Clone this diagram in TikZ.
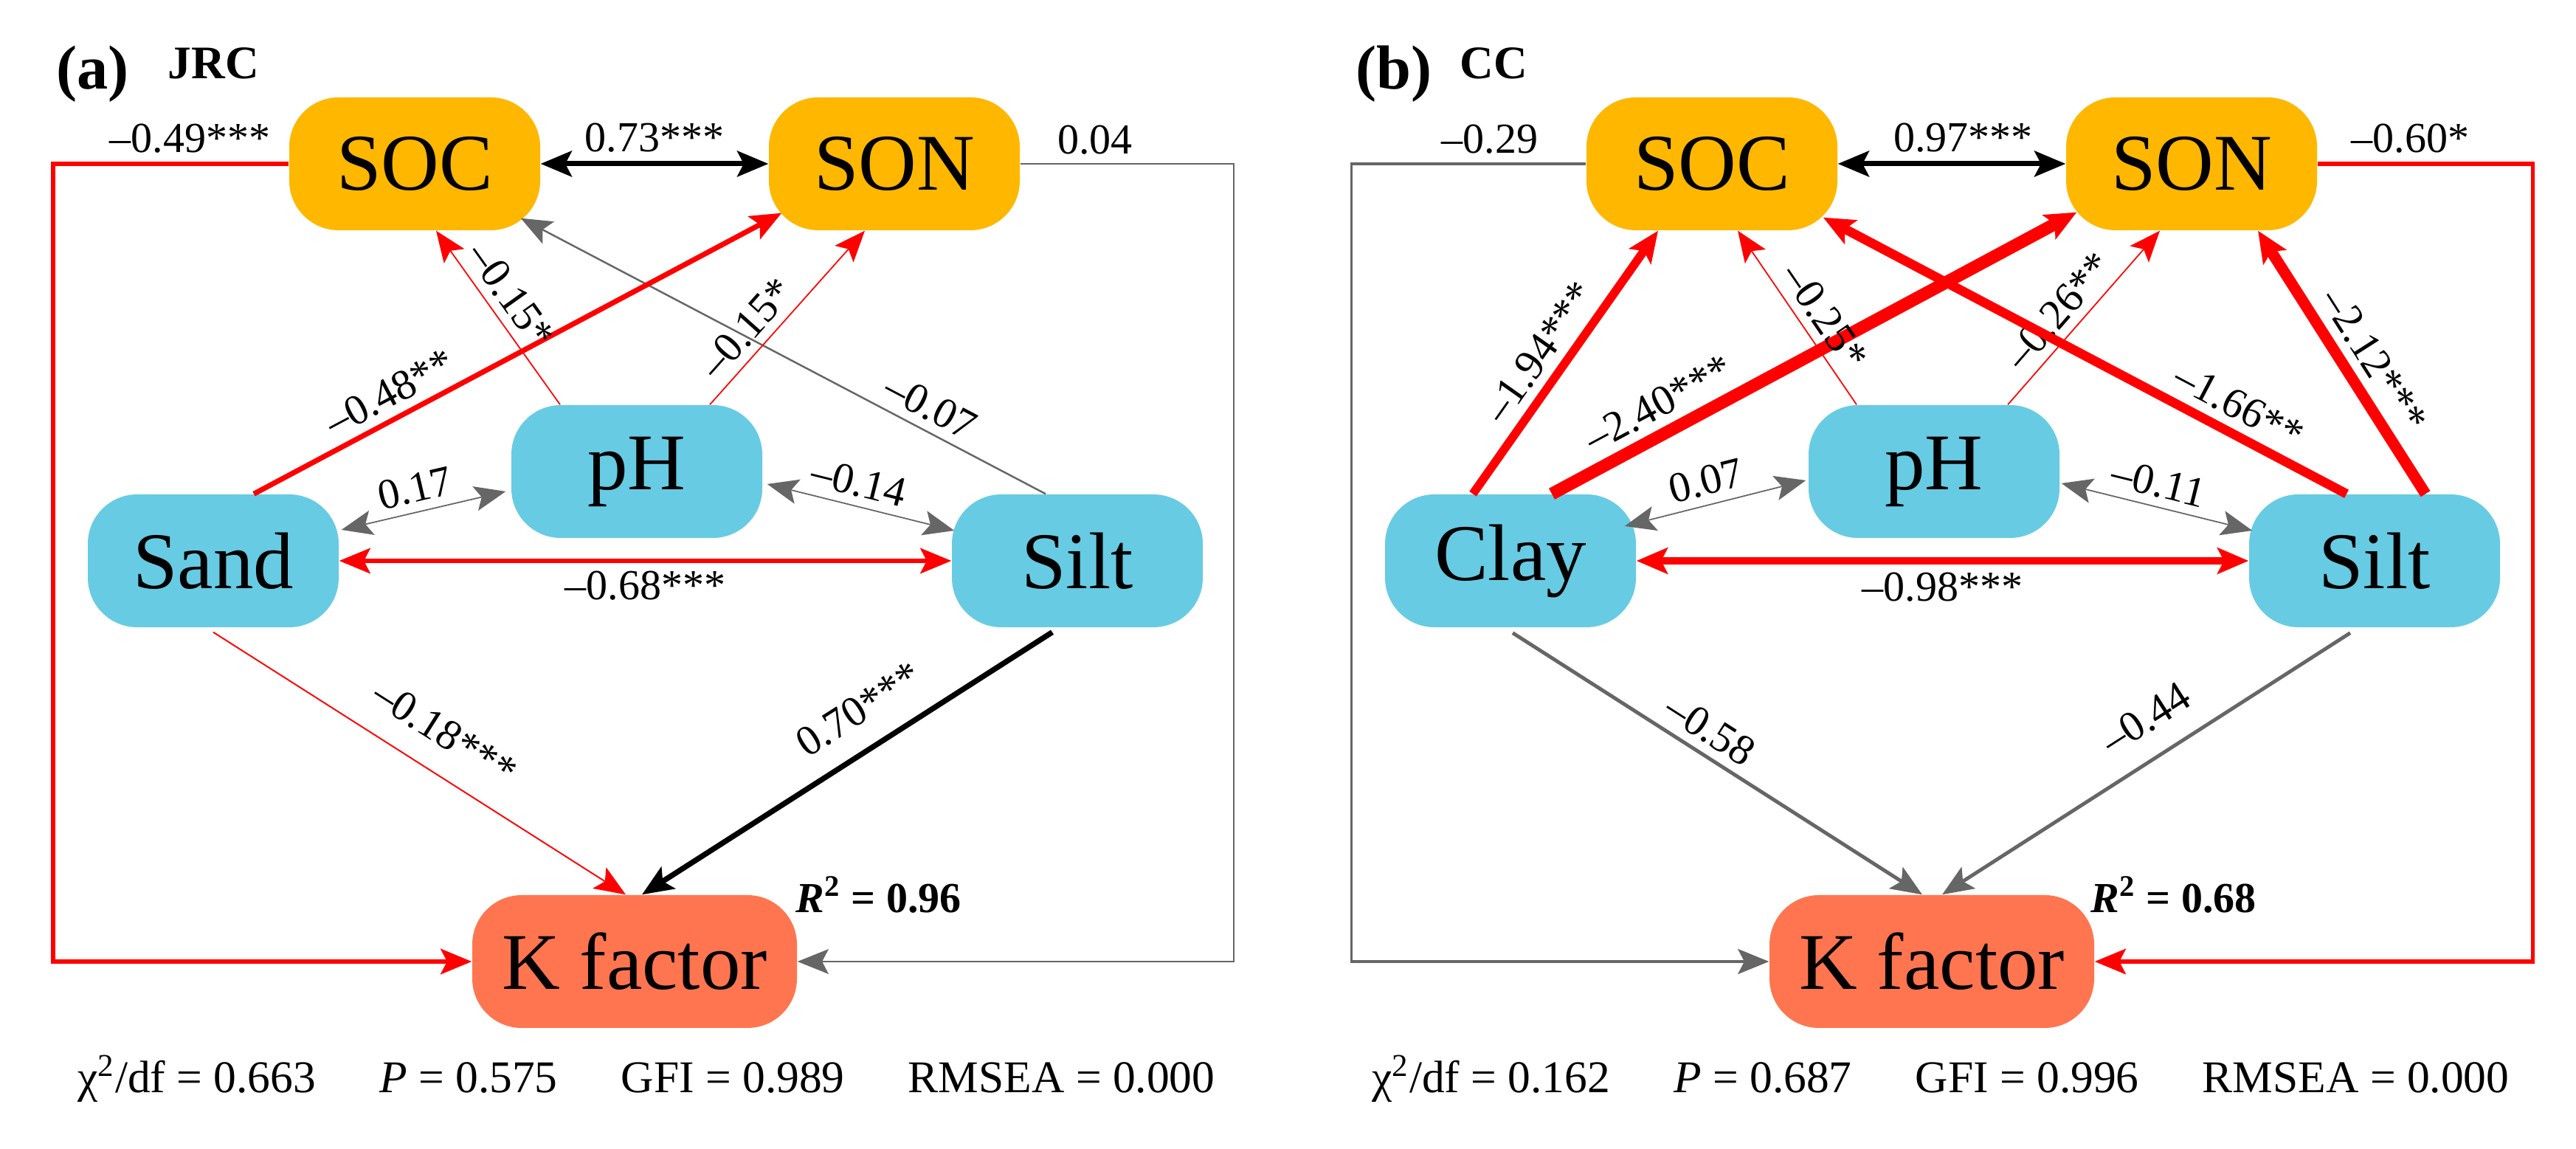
\documentclass[tikz,border=0pt]{standalone}
\usepackage{fontspec}
\setmainfont{Liberation Serif}
\usetikzlibrary{arrows.meta}

\definecolor{socorange}{RGB}{255,183,0}
\definecolor{soilblue}{RGB}{103,203,227}
\definecolor{kcoral}{RGB}{255,117,80}
\definecolor{pathred}{RGB}{255,0,0}
\definecolor{pathgray}{RGB}{102,102,102}

\newcommand{\boxfont}{\fontsize{31}{36}\selectfont}
\newcommand{\labfont}{\fontsize{16.5}{19}\selectfont}
\newcommand{\fitfont}{\fontsize{17.5}{21}\selectfont}
\newcommand{\tagfont}{\fontsize{24}{28}\selectfont\bfseries}
\newcommand{\sitefont}{\fontsize{18}{21}\selectfont\bfseries}

\begin{document}
\begin{tikzpicture}[
    >={Stealth[length=12pt, width=9.5pt 0.2, inset=2.5pt]},
    soil/.style={rounded corners=0.67cm, minimum width=3.4cm, minimum height=1.8cm, inner sep=0pt, font=\boxfont},
    carbon/.style={soil, fill=socorange},
    texture/.style={soil, fill=soilblue},
    kfac/.style={soil, fill=kcoral, minimum width=4.4cm},
    coef/.style={font=\labfont, sloped, above},
    rsq/.style={font=\labfont, anchor=west, inner sep=0pt},
    rline/.style={draw=pathred},
    gline/.style={draw=pathgray},
    kline/.style={draw=black}]
    \useasboundingbox (0,0) rectangle (34.91,15.57);

    \node[anchor=base west, inner sep=0pt, font=\tagfont] (tag_a) at (0.76,14.36) {(a)};
    \node[anchor=base west, inner sep=0pt, font=\sitefont] (site_a) at (2.27,14.50) {JRC};
    \node[carbon] (soc_a) at (5.62,13.35) {SOC};
    \node[carbon] (son_a) at (12.12,13.35) {SON};
    \node[texture] (ph_a) at (8.63,9.18) {pH};
    \node[texture] (sand_a) at (2.89,7.97) {Sand};
    \node[texture] (silt_a) at (14.60,7.97) {Silt};
    \node[kfac] (k_a) at (8.60,2.54) {K factor};
    \node[rsq] (r2_a) at ([xshift=-0.03cm]k_a.north east) {\textbf{\textit{R}\textsuperscript{2} = 0.96}};
    \node[font=\fitfont] (fit_a) at (8.76,0.95) {χ\textsuperscript{2}/df = 0.663\hspace{1.4em}\textit{P} = 0.575\hspace{1.4em}GFI = 0.989\hspace{1.4em}RMSEA = 0.000};

    \draw[rline, line width=1.6pt, ->] (soc_a.west) -- node[coef, pos=0.42] {--0.49***} ++(-3.19,0) |- (k_a.west);
    \draw[gline, line width=0.5pt, ->] (son_a.east) -- node[coef, pos=0.35] {0.04} ++(2.89,0) |- (k_a.east);

    \path[->]
        (soc_a.east) edge[kline, <->, line width=2pt] node[coef] {0.73***} (son_a.west)
        ([xshift=-0.43cm]silt_a.north) edge[gline, line width=0.7pt] node[coef, pos=0.24] {--0.07} ([xshift=-0.27cm,yshift=0.17cm]soc_a.south east)
        ([xshift=0.55cm]sand_a.north) edge[rline, line width=2pt] node[coef, pos=0.28] {--0.48**} ([xshift=0.18cm,yshift=0.24cm]son_a.south west)
        ([xshift=-1.04cm]ph_a.north) edge[rline, line width=0.5pt] node[coef, pos=0.55] {--0.15*} ([xshift=0.29cm]soc_a.south)
        ([xshift=0.99cm]ph_a.north) edge[rline, line width=0.5pt] node[coef, pos=0.35] {--0.15*} ([xshift=-0.40cm]son_a.south)
        ([xshift=0.03cm,yshift=0.42cm]sand_a.east) edge[gline, <->, line width=0.5pt] node[coef, pos=0.48] {0.17} ([xshift=-0.07cm,yshift=-0.27cm]ph_a.west)
        ([xshift=0.06cm,yshift=-0.17cm]ph_a.east) edge[gline, <->, line width=0.5pt] node[coef, pos=0.46] {--0.14} ([xshift=0.04cm,yshift=0.41cm]silt_a.west)
        (sand_a.east) edge[rline, <->, line width=1.5pt] node[coef, below] {--0.68***} (silt_a.west)
        ([yshift=-0.06cm]sand_a.south) edge[rline, line width=0.55pt] node[coef, pos=0.51, inner sep=0.33cm] {--0.18***} ([xshift=-0.12cm]k_a.north)
        ([xshift=-0.34cm,yshift=-0.06cm]silt_a.south) edge[kline, line width=2.1pt] node[coef, pos=0.42, inner sep=0.3cm] {0.70***} ([xshift=0.10cm]k_a.north);

    \node[anchor=base west, inner sep=0pt, font=\tagfont] (tag_b) at (18.37,14.36) {(b)};
    \node[anchor=base west, inner sep=0pt, font=\sitefont] (site_b) at (19.78,14.50) {CC};
    \node[carbon] (soc_b) at (23.20,13.35) {SOC};
    \node[carbon] (son_b) at (29.70,13.35) {SON};
    \node[texture] (ph_b) at (26.21,9.18) {pH};
    \node[texture] (clay_b) at (20.47,7.97) {Clay};
    \node[texture] (silt_b) at (32.18,7.97) {Silt};
    \node[kfac] (k_b) at (26.18,2.54) {K factor};
    \node[rsq] (r2_b) at ([xshift=-0.06cm]k_b.north east) {\textbf{\textit{R}\textsuperscript{2} = 0.68}};
    \node[font=\fitfont] (fit_b) at (26.30,0.95) {χ\textsuperscript{2}/df = 0.162\hspace{1.4em}\textit{P} = 0.687\hspace{1.4em}GFI = 0.996\hspace{1.4em}RMSEA = 0.000};

    \draw[gline, line width=1pt, ->] (soc_b.west) -- node[coef, pos=0.41] {--0.29} ++(-3.18,0) |- (k_b.west);
    \draw[rline, line width=1.5pt, ->] (son_b.east) -- node[coef, pos=0.43] {--0.60*} ++(2.92,0) |- (k_b.east);

    \path[->]
        (soc_b.east) edge[kline, <->, line width=2pt] node[coef, pos=0.55] {0.97***} (son_b.west)
        ([xshift=-0.51cm]clay_b.north) edge[rline, line width=3.3pt] node[coef, pos=0.48] {--1.94***} ([xshift=-0.73cm]soc_b.south)
        ([xshift=0.56cm]clay_b.north) edge[rline, line width=4.8pt] node[coef, pos=0.23] {--2.40***} ([xshift=0.15cm,yshift=0.25cm]son_b.south west)
        ([xshift=-1.05cm]ph_b.north) edge[rline, line width=0.5pt] node[coef, pos=0.43] {--0.25*} ([xshift=0.35cm]soc_b.south)
        ([xshift=1.00cm]ph_b.north) edge[rline, line width=0.5pt] node[coef, pos=0.45] {--0.26**} ([xshift=-0.43cm]son_b.south)
        ([xshift=-0.38cm]silt_b.north) edge[rline, line width=3.6pt] node[coef, pos=0.23] {--1.66**} ([xshift=-0.20cm,yshift=0.18cm]soc_b.south east)
        ([xshift=0.69cm]silt_b.north) edge[rline, line width=4.3pt] node[coef, pos=0.45] {--2.12***} ([xshift=0.90cm]son_b.south)
        ([xshift=-0.16cm,yshift=0.47cm]clay_b.east) edge[gline, <->, line width=0.5pt] node[coef, pos=0.48] {0.07} ([xshift=-0.03cm,yshift=-0.12cm]ph_b.west)
        ([xshift=0.02cm,yshift=-0.16cm]ph_b.east) edge[gline, <->, line width=0.5pt] node[coef, pos=0.48] {--0.11} ([xshift=0.05cm,yshift=0.41cm]silt_b.west)
        (clay_b.east) edge[rline, <->, line width=2.6pt] node[coef, below] {--0.98***} (silt_b.west)
        ([xshift=0.03cm,yshift=-0.07cm]clay_b.south) edge[gline, line width=1.4pt] node[coef, pos=0.45] {--0.58} ([xshift=-0.13cm]k_b.north)
        ([xshift=-0.33cm,yshift=-0.07cm]silt_b.south) edge[gline, line width=1.4pt] node[coef, pos=0.45, inner sep=0.3cm] {--0.44} ([xshift=0.14cm]k_b.north);
\end{tikzpicture}
\end{document}
